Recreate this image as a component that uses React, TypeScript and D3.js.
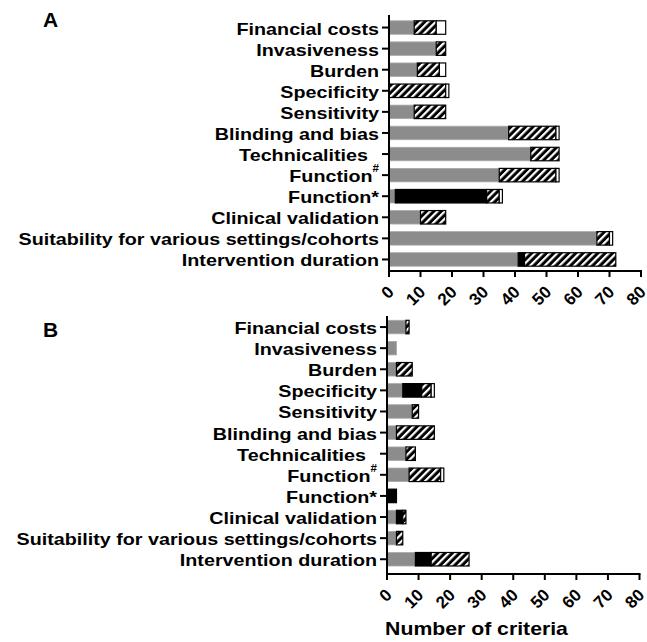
import React, { useEffect, useRef } from "react";
import * as d3 from "d3";

// categories, top to bottom
const categories = [
  "Financial costs",
  "Invasiveness",
  "Burden",
  "Specificity",
  "Sensitivity",
  "Blinding and bias",
  "Technicalities",
  "Function#",
  "Function*",
  "Clinical validation",
  "Suitability for various settings/cohorts",
  "Intervention duration",
];

const seriesKeys = ["gray", "black", "hatched", "white"];

// Panel A values
const aGray = [8, 15, 9, 0, 8, 38, 45, 35, 2, 10, 66, 41];
const aBlack = [0, 0, 0, 0, 0, 0, 0, 0, 29, 0, 0, 2];
const aHatched = [7, 3, 7, 18, 10, 15, 9, 18, 4, 8, 4, 29];
const aWhite = [3, 0, 2, 1, 0, 1, 0, 1, 1, 0, 1, 0];

// Panel B values
const bGray = [6, 3, 3, 5, 8, 3, 6, 7, 0, 3, 3, 9];
const bBlack = [0, 0, 0, 6, 0, 0, 0, 0, 3, 2, 0, 5];
const bHatched = [1, 0, 5, 3, 2, 12, 3, 10, 0, 1, 2, 12];
const bWhite = [0, 0, 0, 1, 0, 0, 0, 1, 0, 0, 0, 0];

const xTicks = [0, 10, 20, 30, 40, 50, 60, 70, 80];
const xLabel = "Number of criteria";

const buildRows = (gray, black, hatched, white) =>
  categories.map((c, i) => ({ category: c, gray: gray[i], black: black[i], hatched: hatched[i], white: white[i] }));

const fills = { gray: "#8c8c8c", black: "#000", hatched: "url(#hatch)", white: "#fff" };
const FONT = "'Liberation Sans', Arial, Helvetica, sans-serif";

const drawPanel = (svg, { rows, letter, letterY, x0, x1, yTop, yBottom, axisTop, axisY }) => {
  const x = d3.scaleLinear().domain([0, 80]).range([x0, x1]);
  const y = d3.scaleBand().domain(categories).range([yTop, yBottom]).paddingInner(0.36).paddingOuter(0.18);

  const g = svg.append("g");
  const layers = d3.stack().keys(seriesKeys)(rows);

  layers.forEach((layer) => {
    g.selectAll(null)
      .data(layer.filter((d) => d[1] > d[0]))
      .join("rect")
      .attr("x", (d) => x(d[0]))
      .attr("y", (d) => y(d.data.category))
      .attr("width", (d) => x(d[1]) - x(d[0]))
      .attr("height", y.bandwidth())
      .attr("fill", fills[layer.key])
      .attr("stroke", layer.key === "gray" ? "#a8a8a8" : "#000")
      .attr("stroke-width", layer.key === "gray" ? 0.8 : 1.2);
  });

  // axes
  g.append("line").attr("x1", x0).attr("x2", x0).attr("y1", axisTop).attr("y2", axisY + 1)
    .attr("stroke", "#000").attr("stroke-width", 2);
  g.append("line").attr("x1", x0 - 1).attr("x2", x1 + 1).attr("y1", axisY).attr("y2", axisY)
    .attr("stroke", "#000").attr("stroke-width", 2);

  categories.forEach((c) => {
    const cy = y(c) + y.bandwidth() / 2;
    g.append("line").attr("x1", x0 - 7).attr("x2", x0).attr("y1", cy).attr("y2", cy)
      .attr("stroke", "#000").attr("stroke-width", 2);
    const t = g.append("text")
      .attr("transform", `translate(${x0 - 10},${cy + 7}) scale(1.16,1)`)
      .attr("text-anchor", "end")
      .attr("font-size", 17)
      .attr("font-weight", "bold")
      .style("white-space", "pre");
    if (c === "Function#") {
      t.append("tspan").text("Function");
      t.append("tspan").attr("font-size", 10).attr("dy", -10).text("#");
    } else if (c === "Technicalities") {
      t.text(c + "  ");
    } else {
      t.text(c);
    }
  });

  xTicks.forEach((v) => {
    g.append("line").attr("x1", x(v)).attr("x2", x(v)).attr("y1", axisY).attr("y2", axisY + 6)
      .attr("stroke", "#000").attr("stroke-width", 2);
    g.append("text")
      .attr("transform", `translate(${x(v) + 6},${axisY + 22}) rotate(-45)`)
      .attr("text-anchor", "end")
      .attr("font-size", 17)
      .attr("font-weight", "bold")
      .text(v);
  });

  svg.append("text").attr("x", 43).attr("y", letterY).attr("font-size", 21).attr("font-weight", "bold").text(letter);
};

const App = () => {
  const ref = useRef(null);

  useEffect(() => {
    const svg = d3.select(ref.current);
    svg.selectAll("*").remove();

    const defs = svg.append("defs");
    const pat = defs.append("pattern")
      .attr("id", "hatch")
      .attr("patternUnits", "userSpaceOnUse")
      .attr("width", 5.2)
      .attr("height", 5.2)
      .attr("patternTransform", "rotate(45)");
    pat.append("rect").attr("width", 5.2).attr("height", 5.2).attr("fill", "#000");
    pat.append("rect").attr("width", 2.2).attr("height", 5.2).attr("fill", "#fff");

    drawPanel(svg, {
      rows: buildRows(aGray, aBlack, aHatched, aWhite),
      letter: "A", letterY: 27, x0: 389, x1: 641, yTop: 17, yBottom: 270, axisTop: 15, axisY: 271,
    });
    drawPanel(svg, {
      rows: buildRows(bGray, bBlack, bHatched, bWhite),
      letter: "B", letterY: 337, x0: 387, x1: 639.5, yTop: 316.5, yBottom: 569.8, axisTop: 316, axisY: 574,
    });

    svg.append("text")
      .attr("transform", "translate(476.5,635) scale(1.18,1)")
      .attr("text-anchor", "middle")
      .attr("font-size", 18)
      .attr("font-weight", "bold")
      .text(xLabel);
  }, []);

  return (
    <svg
      ref={ref}
      width={647}
      height={642}
      style={{ position: "absolute", left: 0, top: 0, background: "#fff", fontFamily: FONT }}
    />
  );
};

export default App;
